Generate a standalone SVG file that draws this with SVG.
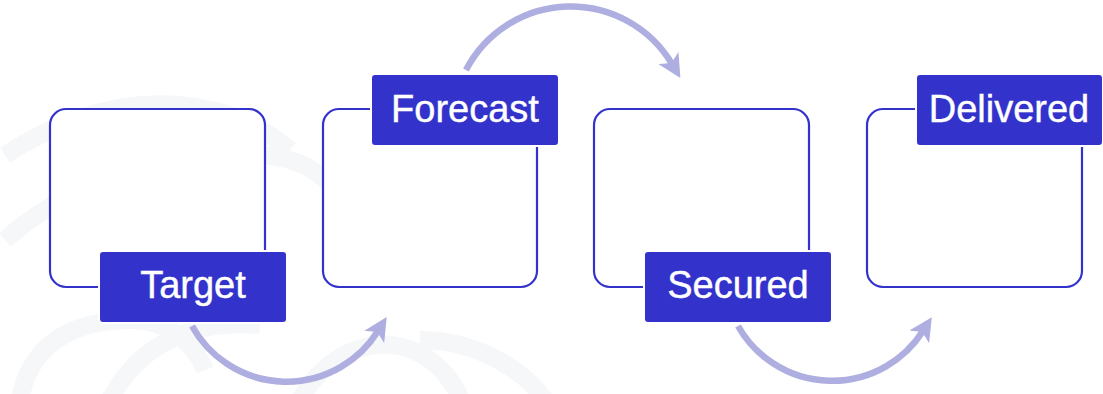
<svg xmlns="http://www.w3.org/2000/svg" width="1103" height="394" viewBox="0 0 1103 394">
<style>
.bg{fill:none;stroke:#f6f7f9;stroke-width:18}
.box{fill:#ffffff;stroke:#3333cc;stroke-width:2.2}
.lbl{fill:#3333cc;stroke:#ffffff;stroke-width:2}
.txt{fill:#ffffff;stroke:#ffffff;stroke-width:0.4;font-family:"Liberation Sans",Arial,sans-serif;font-size:38px;text-anchor:middle}
.arc{fill:none;stroke:#aeaee0;stroke-width:6.5}
</style>
<defs>
<marker id="ah" viewBox="0 0 10 10" refX="3" refY="5" markerWidth="3.6" markerHeight="3.6" orient="auto" markerUnits="strokeWidth">
<path d="M0,0 L10,5 L0,10 L2.5,5 Z" fill="#aeaee0"/>
</marker>
</defs>
<g id="background">
<path class="bg" d="M5,155 C60,120 120,100 180,105 C230,110 260,125 290,150"/>
<path class="bg" d="M5,240 C50,200 110,170 170,170"/>
<path class="bg" d="M200,160 C240,150 300,150 330,185"/>
<path class="bg" d="M20,400 C30,340 80,320 130,320 C170,320 195,345 205,370"/>
<path class="bg" d="M110,400 C140,340 200,320 260,325"/>
<path class="bg" d="M300,400 C330,345 390,330 430,360 C450,375 460,395 460,400"/>
<path class="bg" d="M420,340 C470,340 520,365 545,400"/>
</g>
<g id="connectors">
<path class="arc" d="M192,326 A108,108 0 0 0 378,331" marker-end="url(#ah)"/>
<path class="arc" d="M466,70 A118,118 0 0 1 672,64" marker-end="url(#ah)"/>
<path class="arc" d="M738,326 A108,108 0 0 0 923,331" marker-end="url(#ah)"/>
</g>
<g id="target">
<rect class="box" x="50" y="109" width="215" height="178" rx="16"/>
<rect class="lbl" x="99" y="251" width="188" height="72" rx="4"/>
<text class="txt" x="193" y="298">Target</text>
</g>
<g id="forecast">
<rect class="box" x="323" y="109" width="214" height="178" rx="16"/>
<rect class="lbl" x="371" y="74" width="188" height="72" rx="4"/>
<text class="txt" x="465" y="122">Forecast</text>
</g>
<g id="secured">
<rect class="box" x="594" y="109" width="215" height="178" rx="16"/>
<rect class="lbl" x="644" y="251" width="188" height="72" rx="4"/>
<text class="txt" x="738" y="298">Secured</text>
</g>
<g id="delivered">
<rect class="box" x="867" y="109" width="215" height="178" rx="16"/>
<rect class="lbl" x="916" y="74" width="187" height="72" rx="4"/>
<text class="txt" x="1009" y="122">Delivered</text>
</g>
</svg>
